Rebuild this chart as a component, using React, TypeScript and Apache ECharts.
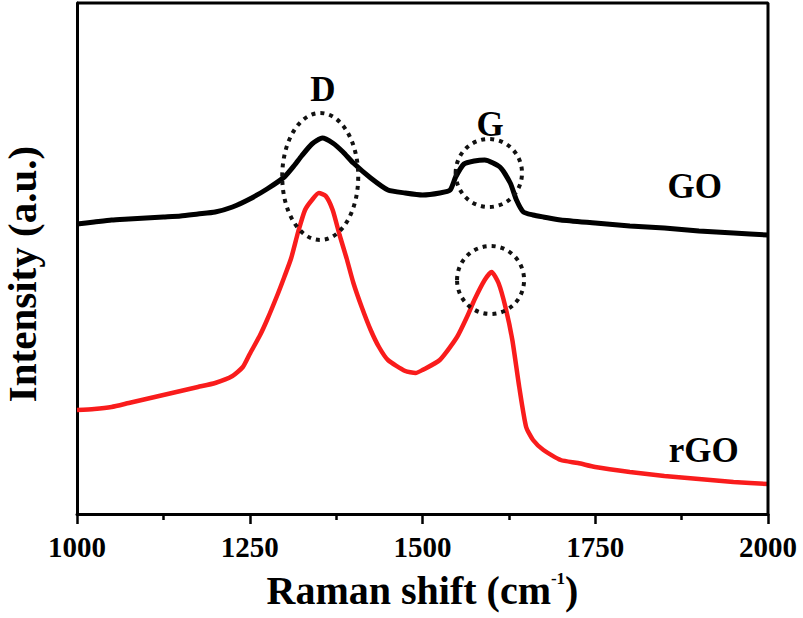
import React, { useEffect, useRef } from "react";
import * as echarts from "echarts";

// Raman shift (cm-1) and intensity (a.u.)
const goShift = [1000, 1025, 1050, 1075, 1100, 1125, 1150, 1175, 1200, 1225, 1250, 1275, 1300, 1315, 1325, 1340, 1355, 1370, 1385, 1400, 1425, 1450, 1475, 1500, 1525, 1540, 1548, 1560, 1575, 1590, 1612, 1627, 1636, 1646, 1660, 1675, 1700, 1750, 1800, 1850, 1900, 1950, 2000];
const goIntensity = [290, 292, 294, 295, 296, 297, 298, 300, 302, 307, 315, 325, 337, 349, 358, 370, 376, 371, 362, 351, 336, 324, 321, 319, 321, 324, 337, 350, 353, 354, 347, 331, 314, 302, 299, 297, 294, 291, 288, 286, 283, 281, 279];

const rgoShift = [1000, 1025, 1050, 1075, 1100, 1125, 1150, 1175, 1200, 1225, 1240, 1250, 1265, 1275, 1290, 1300, 1310, 1320, 1330, 1340, 1350, 1360, 1370, 1380, 1390, 1400, 1412, 1425, 1437, 1450, 1475, 1490, 1500, 1525, 1550, 1565, 1575, 1590, 1600, 1610, 1620, 1630, 1640, 1650, 1660, 1675, 1700, 1725, 1750, 1800, 1850, 1900, 1950, 2000];
const rgoIntensity = [104, 105, 107, 111, 115, 119, 123, 127, 131, 138, 147, 160, 179, 194, 219, 237, 256, 282, 304, 314, 321, 318, 304, 279, 256, 231, 207, 184, 167, 154, 143, 141, 144, 154, 177, 198, 214, 234, 242, 231, 207, 174, 127, 87, 74, 64, 54, 51, 47, 42, 38, 35, 32, 30];

const xTickInterval = 250;
const xMin = 1000;
const xMax = 2000;
const yMin = 0;
const yMax = 511;

// dotted rings: extent in data space
const ringLabels = ["D-ring", "G-ring-GO", "G-ring-rGO"];
const ringShift = [[1297, 1407], [1548, 1644], [1550, 1647]];
const ringIntensity = [[274, 401], [307, 375], [200, 268]];

// text annotations
const noteTexts = ["D", "G", "GO", "rGO"];
const noteShift = [1356, 1598, 1894, 1907];
const noteIntensity = [425, 390, 328, 64];

const FONT = "'Liberation Serif', 'Times New Roman', serif";

export default function App() {
  const ref = useRef<HTMLDivElement>(null);
  useEffect(() => {
    if (!ref.current) return;
    const chart = echarts.init(ref.current, undefined, { renderer: "svg" });
    const option: any = {
      animation: false,
      backgroundColor: "#fff",
      grid: { left: 77, right: 35, top: 3, bottom: 104 },
      xAxis: {
        type: "value",
        min: xMin,
        max: xMax,
        interval: xTickInterval,
        name: "Raman shift (cm{sup|-1})",
        nameLocation: "middle",
        nameGap: 56,
        nameTextStyle: {
          fontFamily: FONT,
          fontWeight: "bold",
          fontSize: 40,
          color: "#000",
          rich: {
            sup: {
              fontFamily: FONT,
              fontWeight: "bold",
              fontSize: 17,
              color: "#000",
              verticalAlign: "top",
              lineHeight: 40,
            },
          },
        },
        axisLine: { show: true, onZero: false, lineStyle: { color: "#000", width: 3 } },
        axisTick: { show: true, inside: false, length: 10, lineStyle: { color: "#000", width: 2.5 } },
        minorTick: { show: true, splitNumber: 2, length: 6, lineStyle: { color: "#000", width: 2.5 } },
        axisLabel: {
          margin: 18,
          fontFamily: FONT,
          fontWeight: "bold",
          fontSize: 29,
          color: "#000",
          formatter: (v: number) => String(v),
        },
        splitLine: { show: false },
      },
      yAxis: {
        type: "value",
        min: yMin,
        max: yMax,
        axisLine: { show: true, onZero: false, lineStyle: { color: "#000", width: 3 } },
        axisTick: { show: false },
        axisLabel: { show: false },
        splitLine: { show: false },
      },
      series: [
        {
          name: "frame",
          type: "line",
          data: [[xMin, yMax], [xMax, yMax], [xMax, yMin]],
          showSymbol: false,
          silent: true,
          clip: false,
          lineStyle: { color: "#000", width: 3 },
          z: 4,
        },
        {
          name: "GO",
          type: "line",
          data: goShift.map((s, i) => [s, goIntensity[i]]),
          showSymbol: false,
          smooth: 0.2,
          lineStyle: { color: "#000", width: 5 },
          z: 3,
        },
        {
          name: "rGO",
          type: "line",
          data: rgoShift.map((s, i) => [s, rgoIntensity[i]]),
          showSymbol: false,
          smooth: 0.2,
          lineStyle: { color: "#f91c1c", width: 4.5 },
          z: 3,
        },
      ],
    };
    chart.setOption(option);

    const px = (s: number, v: number) => chart.convertToPixel({ xAxisIndex: 0, yAxisIndex: 0 }, [s, v]) as number[];
    const graphics: any[] = [];
    ringLabels.forEach((_, i) => {
      const a = px(ringShift[i][0], ringIntensity[i][0]);
      const b = px(ringShift[i][1], ringIntensity[i][1]);
      graphics.push({
        type: "ellipse",
        shape: {
          cx: (a[0] + b[0]) / 2,
          cy: (a[1] + b[1]) / 2,
          rx: Math.abs(b[0] - a[0]) / 2,
          ry: Math.abs(b[1] - a[1]) / 2,
        },
        style: { fill: "none", stroke: "#111", lineWidth: 4, lineDash: [4, 5] },
        z: 10,
      });
    });
    noteTexts.forEach((t, i) => {
      const p = px(noteShift[i], noteIntensity[i]);
      graphics.push({
        type: "text",
        x: p[0],
        y: p[1],
        style: {
          text: t,
          fontFamily: FONT,
          fontWeight: "bold",
          fontSize: 35,
          fill: "#000",
          align: "center",
          verticalAlign: "middle",
        },
        z: 10,
      });
    });
    graphics.push({
      type: "text",
      x: 22,
      y: 274,
      rotation: Math.PI / 2,
      style: {
        text: "Intensity (a.u.)",
        fontFamily: FONT,
        fontWeight: "bold",
        fontSize: 41,
        fill: "#000",
        align: "center",
        verticalAlign: "middle",
      },
      z: 10,
    });
    chart.setOption({ graphic: graphics });

    return () => chart.dispose();
  }, []);
  return <div ref={ref} style={{ position: "absolute", left: 0, top: 0, width: 803, height: 618 }} />;
}
